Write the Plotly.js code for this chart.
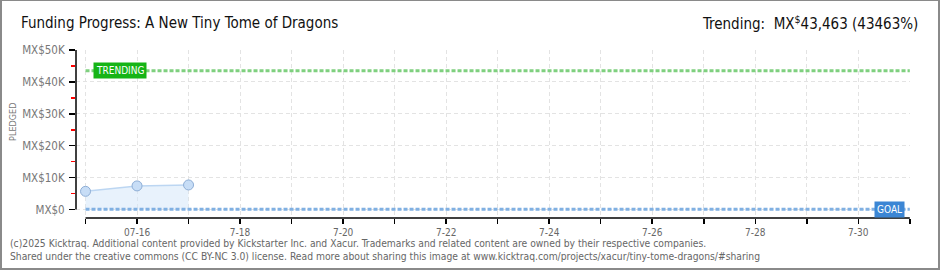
<!DOCTYPE html>
<html>
<head>
<meta charset="utf-8">
<script src="https://cdn.plot.ly/plotly-3.0.1.min.js"></script>
<style>
  body { margin: 0; padding: 0; background: #fff; }
  #wrap { position: relative; width: 940px; height: 270px; }
  #chart { width: 940px; height: 270px; }
  #frame { position: absolute; left: 0; top: 0; width: 940px; height: 270px; box-sizing: border-box; border: 2px solid #8a8a8a; border-top-width: 1px; pointer-events: none; }
</style>
</head>
<body>
<div id="wrap"><div id="chart"></div><div id="frame"></div></div>
<script>
// ---- data ----
const dates = ['2025-07-15', '2025-07-16', '2025-07-17'];
const pledged = [5700, 7400, 7700];
const trendingValue = 43463;
const goalValue = 100;
const xStart = '2025-07-15';
const xEnd = '2025-07-31';
const labelTicks = ['2025-07-16','2025-07-18','2025-07-20','2025-07-22','2025-07-24','2025-07-26','2025-07-28','2025-07-30'];
const labelText = ['07-16', '7-18', '7-20', '7-22', '7-24', '7-26', '7-28', '7-30'];
const yTickVals = [0, 10000, 20000, 30000, 40000, 50000];
const yTickText = ['MX$0', 'MX$10K', 'MX$20K', 'MX$30K', 'MX$40K', 'MX$50K'];
const titleText = 'Funding Progress: A New Tiny Tome of Dragons';
const trendText = 'Trending:  MX<sup>$</sup>43,463 (43463%)';
const footer1 = '(c)2025 Kicktraq. Additional content provided by Kickstarter Inc. and Xacur. Trademarks and related content are owned by their respective companies.';
const footer2 = 'Shared under the creative commons (CC BY-NC 3.0) license. Read more about sharing this image at www.kicktraq.com/projects/xacur/tiny-tome-dragons/#sharing';

const traces = [
  {
    x: [xStart, xEnd], y: [trendingValue, trendingValue],
    mode: 'lines', line: {color: '#7fd07f', width: 3, dash: '4px,2px'},
    hoverinfo: 'skip', showlegend: false
  },
  {
    x: dates, y: pledged, mode: 'lines+markers',
    fill: 'tozeroy', fillcolor: 'rgba(214,232,250,0.55)',
    line: {color: '#bcd6f2', width: 1.5},
    marker: {size: 10, color: '#c7ddf6', line: {color: '#8eaed6', width: 1}},
    showlegend: false
  },
  {
    x: [xStart, xEnd], y: [goalValue, goalValue],
    mode: 'lines', line: {color: '#80b0e2', width: 3, dash: '4px,2px'},
    hoverinfo: 'skip', showlegend: false
  }
];

const pxFont = 'DejaVu Sans Condensed, DejaVu Sans, sans-serif';
const titleFont = 'DejaVu Sans Condensed, sans-serif';

const layout = {
  width: 940, height: 270,
  margin: {l: 76, r: 30, t: 50, b: 52},
  paper_bgcolor: '#ffffff', plot_bgcolor: '#ffffff',
  showlegend: false,
  xaxis: {
    type: 'date',
    range: ['2025-07-14 19:34', '2025-07-31 00:05'],
    tickmode: 'array', tickvals: labelTicks, ticktext: labelText,
    ticks: 'outside', ticklen: 5, tickwidth: 1.5, tickcolor: '#000',
    minor: {dtick: 86400000, tick0: xStart, ticks: 'outside', ticklen: 5, tickwidth: 1.5, tickcolor: '#000',
            showgrid: true, gridcolor: '#e3e3e3', griddash: '4px,3px', gridwidth: 1},
    showgrid: true, gridcolor: '#e3e3e3', griddash: '4px,3px', gridwidth: 1,
    showline: false, zeroline: false,
    tickfont: {family: pxFont, size: 10, color: '#666'}
  },
  yaxis: {
    range: [-2660, 50000],
    tickmode: 'array', tickvals: yTickVals, ticktext: yTickText,
    ticks: 'outside', ticklen: 6, tickwidth: 1.5, tickcolor: '#000',
    minor: {dtick: 5000, tick0: 0, ticks: 'outside', ticklen: 4, tickwidth: 1.5, tickcolor: '#ff0000', showgrid: false},
    showgrid: true, gridcolor: '#e3e3e3', griddash: '4px,3px', gridwidth: 1,
    showline: false, zeroline: false,
    tickfont: {family: pxFont, size: 11.5, color: '#777'},
    ticklabelstandoff: 2
  },
  shapes: [
    {type: 'line', xref: 'paper', yref: 'y', x0: 0, x1: 0, y0: 0, y1: 50000, line: {color: '#000', width: 1.5}},
    {type: 'line', xref: 'x', yref: 'paper', x0: xStart, x1: xEnd, y0: 0, y1: 0, line: {color: '#000', width: 1.5}}
  ],
  annotations: [
    {text: titleText, xref: 'paper', yref: 'paper', x: -57/834, y: 1 + 27/168, xanchor: 'left', yanchor: 'middle', showarrow: false,
     font: {family: titleFont, size: 15, color: '#111'}},
    {text: trendText, xref: 'paper', yref: 'paper', x: 1 + 10/834, y: 1 + 27/168, xanchor: 'right', yanchor: 'middle', showarrow: false,
     font: {family: titleFont, size: 15, color: '#111'}},
    {text: 'PLEDGED', xref: 'paper', yref: 'paper', x: -63/834, y: (218 - 122) / 168, textangle: -90, showarrow: false,
     xanchor: 'center', yanchor: 'middle', font: {family: pxFont, size: 9, color: '#777'}},
    {text: 'TRENDING', xref: 'x', yref: 'y', x: xStart, y: trendingValue, xanchor: 'left', yanchor: 'middle', xshift: 7, showarrow: false,
     bgcolor: '#16b416', borderpad: 2, font: {family: pxFont, size: 10, color: '#ffffff'}},
    {text: 'GOAL', xref: 'x', yref: 'y', x: xEnd, y: goalValue, xanchor: 'right', yanchor: 'middle', xshift: -5, showarrow: false,
     bgcolor: '#3c86d4', borderpad: 2, font: {family: pxFont, size: 10, color: '#ffffff'}},
    {text: footer1, xref: 'paper', yref: 'paper', x: -68/834, y: -(243 - 218) / 168, xanchor: 'left', yanchor: 'middle', showarrow: false,
     font: {family: 'DejaVu Sans Condensed, sans-serif', size: 10.25, color: '#666'}},
    {text: footer2, xref: 'paper', yref: 'paper', x: -68/834, y: -(256 - 218) / 168, xanchor: 'left', yanchor: 'middle', showarrow: false,
     font: {family: 'DejaVu Sans Condensed, sans-serif', size: 10.25, color: '#666'}}
  ]
};

Plotly.newPlot('chart', traces, layout, {displayModeBar: false, staticPlot: true});
</script>
</body>
</html>
